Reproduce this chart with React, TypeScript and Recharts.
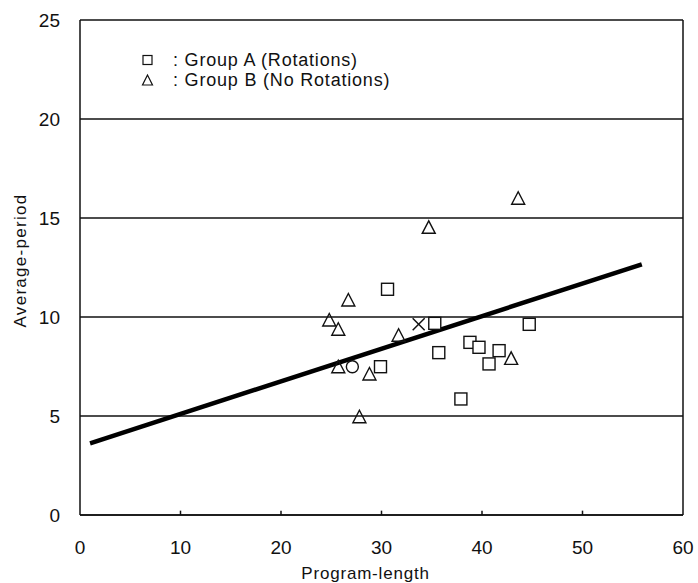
import React from 'react';
import {
  ScatterChart,
  Scatter,
  XAxis,
  YAxis,
  CartesianGrid,
  ReferenceLine,
  Legend,
} from 'recharts';

// Group A (Rotations) – squares
const groupA = [
  { x: 30.6, y: 11.4 },
  { x: 35.3, y: 9.68 },
  { x: 44.7, y: 9.63 },
  { x: 35.7, y: 8.2 },
  { x: 38.8, y: 8.72 },
  { x: 39.7, y: 8.47 },
  { x: 41.7, y: 8.3 },
  { x: 40.7, y: 7.63 },
  { x: 29.9, y: 7.49 },
  { x: 37.9, y: 5.86 },
];

// Group B (No Rotations) – triangles
const groupB = [
  { x: 43.6, y: 16.0 },
  { x: 34.7, y: 14.53 },
  { x: 26.7, y: 10.86 },
  { x: 24.8, y: 9.85 },
  { x: 25.7, y: 9.38 },
  { x: 31.7, y: 9.08 },
  { x: 25.7, y: 7.49 },
  { x: 28.8, y: 7.12 },
  { x: 42.9, y: 7.91 },
  { x: 27.8, y: 4.96 },
];

const circlePoints = [{ x: 27.1, y: 7.49 }];
const crossPoints = [{ x: 33.7, y: 9.63 }];

// regression line end points
const trendLine = [
  { x: 1.0, y: 3.62 },
  { x: 55.9, y: 12.66 },
];

const xTicks = [0, 10, 20, 30, 40, 50, 60];
const yTicks = [0, 5, 10, 15, 20, 25];
const innerTicks = [10, 20, 30, 40, 50];
const legendLabels = [': Group A (Rotations)', ': Group B (No Rotations)'];

const FONT = '"Liberation Sans", Arial, sans-serif';
const INK = '#111';

const SquareShape = (p: any) => (
  <rect x={p.cx - 6} y={p.cy - 6} width={12} height={12} fill="#fff" stroke={INK} strokeWidth={1.4} />
);
const TriangleShape = (p: any) => (
  <polygon
    points={`${p.cx},${p.cy - 6.5} ${p.cx - 6.5},${p.cy + 6} ${p.cx + 6.5},${p.cy + 6}`}
    fill="#fff"
    fillOpacity={0}
    stroke={INK}
    strokeWidth={1.4}
  />
);
const CircleShape = (p: any) => (
  <circle cx={p.cx} cy={p.cy} r={6} fill="#fff" stroke={INK} strokeWidth={1.4} />
);
const CrossShape = (p: any) => (
  <g stroke={INK} strokeWidth={1.5}>
    <line x1={p.cx - 6} y1={p.cy - 6} x2={p.cx + 6} y2={p.cy + 6} />
    <line x1={p.cx - 6} y1={p.cy + 6} x2={p.cx + 6} y2={p.cy - 6} />
  </g>
);
const NoShape = () => <g />;

const renderLegend = () => (
  <div style={{ fontFamily: FONT, fontSize: 18, letterSpacing: 0.8, color: INK, lineHeight: '20px' }}>
    <div style={{ display: 'flex', alignItems: 'center' }}>
      <svg width={24} height={20}>
        <rect x={5} y={5.5} width={9} height={9} fill="none" stroke={INK} strokeWidth={1.2} />
      </svg>
      <span style={{ paddingLeft: 11 }}>{legendLabels[0]}</span>
    </div>
    <div style={{ display: 'flex', alignItems: 'center' }}>
      <svg width={24} height={20}>
        <polygon points="9.5,5 4.5,15 14.5,15" fill="none" stroke={INK} strokeWidth={1.2} />
      </svg>
      <span style={{ paddingLeft: 11 }}>{legendLabels[1]}</span>
    </div>
  </div>
);

export default function App() {
  return (
    <div style={{ position: 'absolute', left: 0, top: 0, width: 698, height: 583, background: '#fff' }}>
      <ScatterChart width={698} height={583} margin={{ top: 20, right: 15, bottom: 0, left: 0 }}>
        <CartesianGrid horizontal vertical={false} stroke={INK} strokeWidth={1.5} strokeOpacity={1} />
        <XAxis
          type="number"
          dataKey="x"
          domain={[0, 60]}
          ticks={xTicks}
          interval={0}
          height={68}
          axisLine={{ stroke: INK, strokeWidth: 1.5 }}
          tickLine={false}
          tickSize={6}
          tickMargin={20}
          tick={{ fill: INK, fontSize: 19, fontFamily: FONT }}
          label={{
            value: 'Program-length',
            position: 'insideBottom',
            offset: 4,
            dx: -16,
            fill: INK,
            fontSize: 17,
            letterSpacing: 0.8,
            fontFamily: FONT,
          }}
        />
        <YAxis
          type="number"
          dataKey="y"
          domain={[0, 25]}
          ticks={yTicks}
          interval={0}
          width={80}
          axisLine={{ stroke: INK, strokeWidth: 1.5 }}
          tickLine={false}
          tickSize={6}
          tickMargin={14}
          tick={{ fill: INK, fontSize: 19, fontFamily: FONT }}
          label={{
            value: 'Average-period',
            angle: -90,
            position: 'insideLeft',
            offset: 20,
            dy: 60,
            fill: INK,
            fontSize: 17,
            letterSpacing: 1.3,
            fontFamily: FONT,
          }}
        />
        <ReferenceLine x={60} stroke={INK} strokeWidth={1.5} />
        {innerTicks.map((t) => (
          <ReferenceLine
            key={t}
            segment={[
              { x: t, y: 0 },
              { x: t, y: 0.22 },
            ]}
            stroke={INK}
            strokeWidth={1.5}
          />
        ))}
        <Legend
          content={renderLegend}
          layout="vertical"
          align="center"
          verticalAlign="middle"
          wrapperStyle={{ position: 'absolute', top: 50, left: 138, width: 320, height: 44 }}
        />
        <Scatter
          name="trend"
          data={trendLine}
          line={{ stroke: '#000', strokeWidth: 4.5 }}
          shape={NoShape}
          isAnimationActive={false}
          legendType="none"
        />
        <Scatter name="Group A" data={groupA} shape={SquareShape} isAnimationActive={false} />
        <Scatter name="Group B" data={groupB} shape={TriangleShape} isAnimationActive={false} />
        <Scatter name="circle" data={circlePoints} shape={CircleShape} isAnimationActive={false} legendType="none" />
        <Scatter name="cross" data={crossPoints} shape={CrossShape} isAnimationActive={false} legendType="none" />
      </ScatterChart>
    </div>
  );
}
